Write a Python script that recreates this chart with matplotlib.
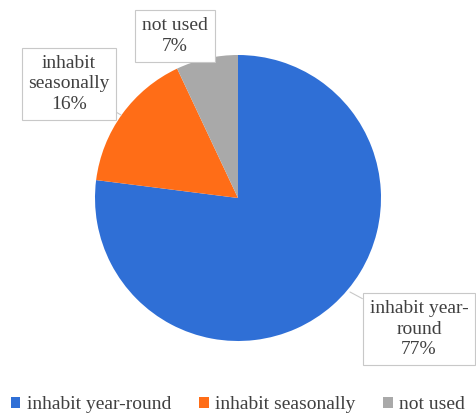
import matplotlib.pyplot as plt
from matplotlib.patches import Patch

# occupancy shares
categories = ["inhabit year-round", "inhabit seasonally", "not used"]
shares = [77, 16, 7]
box_labels = ["inhabit year-\nround", "inhabit\nseasonally", "not used"]
colors = ["#2F6FD6", "#FF6D17", "#A9A9A9"]

plt.rcParams["font.family"] = ["Liberation Serif", "DejaVu Serif"]
TEXT_C = "#404040"
FS = 14

fig = plt.figure(figsize=(4.76, 4.16), dpi=100)
ax = fig.add_axes([0, 0, 1, 1])

wedges, _ = ax.pie(shares, colors=colors, startangle=90, counterclock=False,
                   center=(238, 218), radius=143,
                   wedgeprops=dict(linewidth=0))

# axes in pixel units so the pie sits where it should
ax.set_xlim(0, 476)
ax.set_ylim(0, 416)
ax.set_aspect("equal")
ax.axis("off")

# callout positions (box centre, point on the pie)
callouts = [((419, 87), (350, 124)),
            ((69, 332), (121, 301)),
            ((175, 380), (190, 354))]

for lab, val, (xy_txt, xy_pt) in zip(box_labels, shares, callouts):
    ax.annotate(f"{lab}\n{val}%", xy=xy_pt, xytext=xy_txt,
                ha="center", va="center", fontsize=FS, color=TEXT_C,
                linespacing=1.3,
                bbox=dict(boxstyle="square,pad=0.35", fc="white",
                          ec="#C8C8C8", lw=0.8),
                arrowprops=dict(arrowstyle="-", color="#C8C8C8", lw=0.8,
                                shrinkA=0, shrinkB=0)
                if val != 7 else None)

handles = [Patch(facecolor=c, edgecolor="none") for c in colors]
fig.legend(handles, categories, loc="lower center", ncol=3,
           bbox_to_anchor=(0.5, -0.035), frameon=False, fontsize=FS,
           labelcolor=TEXT_C, handlelength=0.5, handleheight=0.5,
           handletextpad=0.35, columnspacing=1.4)

fig.savefig("out.png", dpi=100)
